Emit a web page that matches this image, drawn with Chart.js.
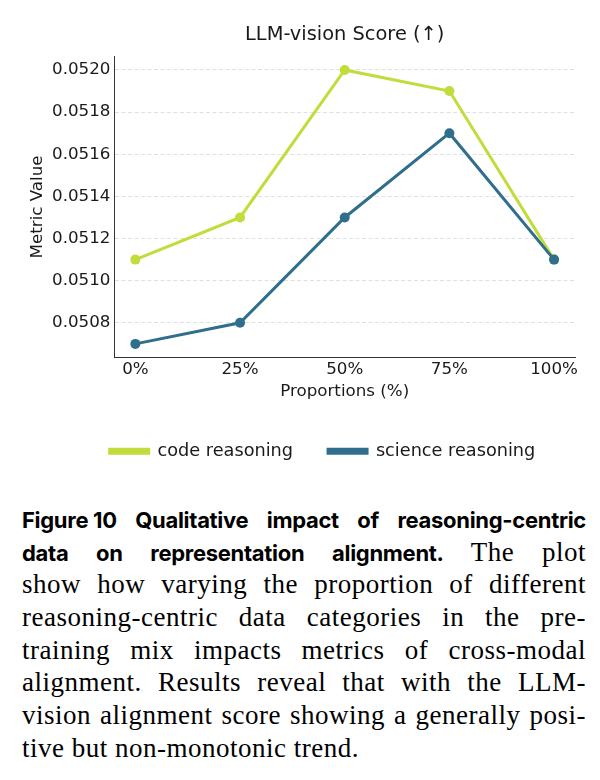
<!DOCTYPE html>
<html><head><meta charset="utf-8">
<script src="https://cdn.jsdelivr.net/npm/chart.js@4.4.1/dist/chart.umd.min.js"></script>
<style>
html,body{margin:0;padding:0;background:#fff;width:600px;height:780px;overflow:hidden;}
#wrap{position:absolute;left:0;top:0;width:600px;height:470px;}
#cap{position:absolute;left:22px;top:503px;width:564px;font-family:"Liberation Serif",serif;font-size:27px;letter-spacing:0.5px;color:#000;line-height:32.7px;}
#cap .ln{text-align:justify;text-align-last:justify;white-space:nowrap;height:32.7px;}
#cap .ln.last{text-align-last:left;}
#cap b{font-family:Inter,sans-serif;font-weight:700;font-size:22px;letter-spacing:-0.3px;}
#cap .fig{display:inline-block;}
</style></head>
<body>
<div id="wrap"><canvas id="c" width="600" height="470"></canvas></div>
<div id="cap">
<div class="ln"><b class="fig">Figure 10</b> <b>Qualitative</b> <b>impact</b> <b>of</b> <b>reasoning-centric</b></div>
<div class="ln"><b>data</b> <b>on</b> <b>representation</b> <b>alignment.</b> The plot</div>
<div class="ln">show how varying the proportion of different</div>
<div class="ln">reasoning-centric data categories in the pre-</div>
<div class="ln">training mix impacts metrics of cross-modal</div>
<div class="ln">alignment. Results reveal that with the LLM-</div>
<div class="ln">vision alignment score showing a generally posi-</div>
<div class="ln last">tive but non-monotonic trend.</div>
</div>
<script>
const categories = ['0%', '25%', '50%', '75%', '100%'];
const codeReasoning = [0.0511, 0.0513, 0.0520, 0.0519, 0.0511];
const scienceReasoning = [0.0507, 0.0508, 0.0513, 0.0517, 0.0511];
const yTicks = [0.0508, 0.0510, 0.0512, 0.0514, 0.0516, 0.0518, 0.0520];
const seriesNames = ['code reasoning', 'science reasoning'];
const chartTitle = 'LLM-vision Score (\u2191)';
const xTitle = 'Proportions (%)';
const yTitle = 'Metric Value';

const GREEN = '#c1dc3b';
const BLUE = '#2f6e8c';
const TXT = '#1a1a1a';
const FONT = 'DejaVu Sans';
const LEGEND_DX = 30;

const toPoints = arr => arr.map((v, i) => ({x: i, y: v}));

const legendShift = {
  id: 'legendShift',
  afterLayout(chart) {
    const lg = chart.legend;
    if (lg) { lg.left += LEGEND_DX; lg.right += LEGEND_DX; }
  }
};

new Chart(document.getElementById('c'), {
  type: 'line',
  data: {
    datasets: [
      {label: seriesNames[0], data: toPoints(codeReasoning), borderColor: GREEN, backgroundColor: GREEN,
       pointBackgroundColor: GREEN, pointBorderWidth: 0, pointRadius: 5, borderWidth: 3, tension: 0, order: 2},
      {label: seriesNames[1], data: toPoints(scienceReasoning), borderColor: BLUE, backgroundColor: BLUE,
       pointBackgroundColor: BLUE, pointBorderWidth: 0, pointRadius: 5, borderWidth: 3, tension: 0, order: 1}
    ]
  },
  options: {
    responsive: false,
    animation: false,
    layout: {padding: {left: 10, right: 25, top: 0, bottom: 0}},
    plugins: {
      tooltip: {enabled: false},
      title: {display: true, text: chartTitle, fullSize: false, color: TXT,
              font: {family: FONT, size: 19.4, weight: 'normal'}, padding: {top: 23, bottom: 10}},
      legend: {
        position: 'bottom', fullSize: true,
        labels: {boxWidth: 39, boxHeight: 4, padding: 35, color: TXT,
                 font: {family: FONT, size: 17.7},
                 sort: (a, b) => a.datasetIndex - b.datasetIndex}
      }
    },
    scales: {
      x: {
        type: 'linear', min: -0.2, max: 4.2,
        afterBuildTicks: s => { s.ticks = categories.map((_, i) => ({value: i})); },
        ticks: {callback: v => categories[Math.round(v)], color: TXT, padding: 2,
                font: {family: FONT, size: 16.7}, maxRotation: 0, autoSkip: false},
        grid: {display: false, drawTicks: false},
        border: {display: true, color: '#333', width: 1},
        title: {display: true, text: xTitle, color: TXT, font: {family: FONT, size: 16.7},
                padding: {top: 0, bottom: 5.65}}
      },
      y: {
        type: 'linear', min: 0.050635, max: 0.052065,
        afterBuildTicks: s => { s.ticks = yTicks.map(v => ({value: v})); },
        ticks: {callback: v => Number(v).toFixed(4), color: TXT, padding: 4,
                font: {family: FONT, size: 16.7}},
        grid: {display: true, drawTicks: false, color: '#e0e0e0', lineWidth: 1},
        border: {display: true, color: '#333', width: 1, dash: [4, 2.5]},
        title: {display: true, text: yTitle, color: TXT, font: {family: FONT, size: 16.7},
                padding: {top: 18, bottom: 0}}
      }
    }
  },
  plugins: [legendShift]
});
</script>
</body></html>
